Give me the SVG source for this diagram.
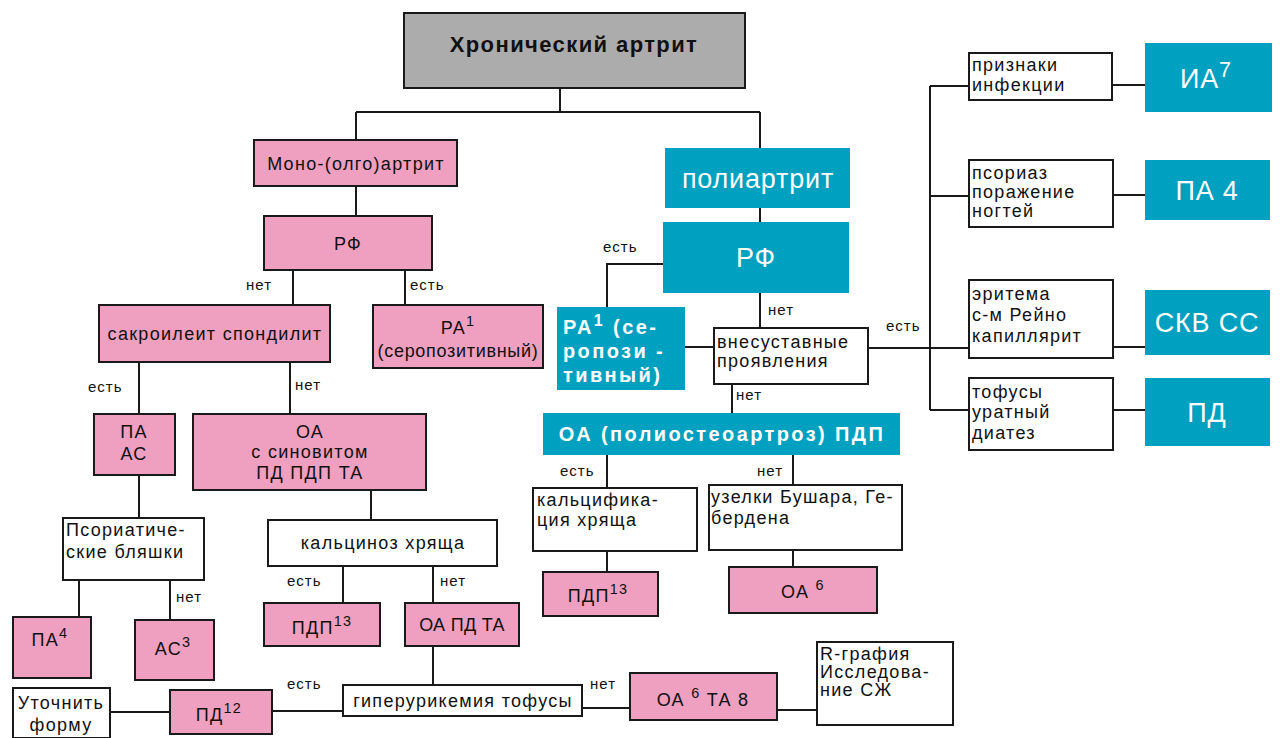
<svg xmlns="http://www.w3.org/2000/svg" width="1280" height="738" viewBox="0 0 1280 738">
<style>
.pk{fill:#ef9fbf;stroke:#1a1a1a;stroke-width:2}
.wh{fill:#fff;stroke:#1a1a1a;stroke-width:2}
.cy{fill:#00a0c0}
.gr{fill:#acacac;stroke:#1a1a1a;stroke-width:2}
.ln{fill:none;stroke:#1a1a1a;stroke-width:2}
text{font-family:"Liberation Sans",Arial,sans-serif;fill:#111}
.t{font-size:18px;letter-spacing:1.3px}
.c{text-anchor:middle}
.lb{font-size:15px;letter-spacing:1px}
.w{fill:#fff;font-size:27px;letter-spacing:0.8px}
.wb{fill:#fff;font-size:20px;font-weight:bold;letter-spacing:2.4px}
.sup{font-size:0.8em}
</style>
<rect width="1280" height="738" fill="#fff"/>
<g id="connectors" class="ln">
<path d="M560 88V112M356 112H760M356 112V140M760 112V148"/>
<path d="M356 186V216"/>
<path d="M293 270V305M405 270V305"/>
<path d="M139 362V414M290 362V414"/>
<path d="M139 475V518"/>
<path d="M79 580V617M170 580V620"/>
<path d="M371 490V520"/>
<path d="M343 566V603M433 566V603"/>
<path d="M433 646V685"/>
<path d="M272 711H343M110 712H170"/>
<path d="M582 708H630M777 710H817"/>
<path d="M760 208V222"/>
<path d="M663 264H607V307"/>
<path d="M760 293V328"/>
<path d="M685 347H714"/>
<path d="M868 348H969"/>
<path d="M930 86V410M930 86H969M930 196H969M930 410H969"/>
<path d="M1112 85H1145M1113 195H1145M1113 347H1145M1113 410H1145"/>
<path d="M732 384V413"/>
<path d="M607 455V488M793 455V485"/>
<path d="M607 551V572M793 550V567"/>
</g>
<g id="labels" class="lb">
<text x="246" y="290">нет</text>
<text x="410" y="290">есть</text>
<text x="88" y="392">есть</text>
<text x="295" y="390">нет</text>
<text x="176" y="602">нет</text>
<text x="287" y="586">есть</text>
<text x="440" y="586">нет</text>
<text x="287" y="689">есть</text>
<text x="590" y="689">нет</text>
<text x="603" y="252">есть</text>
<text x="768" y="315">нет</text>
<text x="886" y="331">есть</text>
<text x="736" y="400">нет</text>
<text x="560" y="476">есть</text>
<text x="757" y="476">нет</text>
</g>
<g id="n-title"><rect class="gr" x="404" y="13" width="341" height="75"/><text x="574" y="52" text-anchor="middle" style="font-size:22px;font-weight:bold;letter-spacing:1.4px">Хронический артрит</text></g>
<g id="n-mono"><rect class="pk" x="254" y="140" width="203" height="46"/><text class="t c" x="356" y="170">Моно-(олго)артрит</text></g>
<g id="n-rf1"><rect class="pk" x="264" y="216" width="168" height="54"/><text class="t c" x="348" y="250">РФ</text></g>
<g id="n-sakr"><rect class="pk" x="99" y="305" width="231" height="57"/><text class="t c" x="215" y="340">сакроилеит спондилит</text></g>
<g id="n-ra1"><rect class="pk" x="373" y="305" width="170" height="63"/><text class="t c" x="458" y="334">РА<tspan class="sup" dy="-8">1</tspan></text><text class="t c" x="458" y="357" style="letter-spacing:0.7px">(серопозитивный)</text></g>
<g id="n-paas"><rect class="pk" x="94" y="414" width="81" height="61"/><text class="t c" x="134" y="438">ПА</text><text class="t c" x="134" y="460">АС</text></g>
<g id="n-oa1"><rect class="pk" x="193" y="414" width="233" height="76"/><text class="t c" x="310" y="438">ОА</text><text class="t c" x="310" y="458">с синовитом</text><text class="t c" x="310" y="479">ПД ПДП ТА</text></g>
<g id="n-psor"><rect class="wh" x="63" y="518" width="141" height="62"/><text class="t" x="66" y="536">Псориатиче-</text><text class="t" x="66" y="558">ские бляшки</text></g>
<g id="n-pa4"><rect class="pk" x="13" y="617" width="78" height="61"/><text class="t c" x="50" y="646">ПА<tspan class="sup" dy="-8">4</tspan></text></g>
<g id="n-as3"><rect class="pk" x="135" y="620" width="79" height="60"/><text class="t c" x="173" y="655">АС<tspan class="sup" dy="-8">3</tspan></text></g>
<g id="n-kalc"><rect class="wh" x="268" y="520" width="229" height="46"/><text class="t c" x="383" y="549">кальциноз хряща</text></g>
<g id="n-pdp1"><rect class="pk" x="264" y="603" width="116" height="43"/><text class="t c" x="322" y="634">ПДП<tspan class="sup" dy="-8">13</tspan></text></g>
<g id="n-oapdta"><rect class="pk" x="405" y="603" width="114" height="43"/><text class="t c" x="462" y="631" style="letter-spacing:0.3px">ОА ПД ТА</text></g>
<g id="n-utoch"><rect class="wh" x="13" y="688" width="97" height="50"/><text class="t c" x="61" y="709">Уточнить</text><text class="t c" x="61" y="731">форму</text></g>
<g id="n-pd12"><rect class="pk" x="170" y="690" width="102" height="44"/><text class="t c" x="219" y="721">ПД<tspan class="sup" dy="-8">12</tspan></text></g>
<g id="n-giper"><rect class="wh" x="343" y="685" width="239" height="31"/><text class="t c" x="463" y="707">гиперурикемия тофусы</text></g>
<g id="n-oa6ta8"><rect class="pk" x="630" y="673" width="147" height="47"/><text class="t c" x="703" y="706">ОА <tspan class="sup" dy="-8">6</tspan><tspan dy="8">  ТА 8</tspan></text></g>
<g id="n-rgraf"><rect class="wh" x="817" y="642" width="136" height="83"/><text class="t" x="820" y="660">R-графия</text><text class="t" x="820" y="678">Исследова-</text><text class="t" x="820" y="696">ние СЖ</text></g>
<g id="n-poly"><rect class="cy" x="665" y="148" width="185" height="60"/><text class="w c" x="758" y="188">полиартрит</text></g>
<g id="n-rf2"><rect class="cy" x="663" y="222" width="186" height="71"/><text class="w c" x="756" y="267">РФ</text></g>
<g id="n-ra2"><rect class="cy" x="557" y="307" width="128" height="83"/><text class="wb" x="563" y="334">РА<tspan class="sup" dy="-8">1</tspan><tspan dy="8"> (се-</tspan></text><text class="wb" x="563" y="358">ропози -</text><text class="wb" x="563" y="382">тивный)</text></g>
<g id="n-vnes"><rect class="wh" x="714" y="328" width="154" height="56"/><text class="t" x="717" y="348">внесуставные</text><text class="t" x="717" y="367">проявления</text></g>
<g id="n-oapoly"><rect class="cy" x="543" y="413" width="357" height="42"/><text class="wb c" x="722" y="441">ОА (полиостеоартроз) ПДП</text></g>
<g id="n-kalcif"><rect class="wh" x="533" y="488" width="164" height="63"/><text class="t" x="537" y="506">кальцифика-</text><text class="t" x="537" y="526">ция хряща</text></g>
<g id="n-pdp2"><rect class="pk" x="543" y="572" width="115" height="44"/><text class="t c" x="598" y="602">ПДП<tspan class="sup" dy="-8">13</tspan></text></g>
<g id="n-uzel"><rect class="wh" x="709" y="485" width="193" height="65"/><text class="t" x="711" y="503">узелки Бушара, Ге-</text><text class="t" x="711" y="524">бердена</text></g>
<g id="n-oa6"><rect class="pk" x="729" y="567" width="148" height="46"/><text class="t c" x="803" y="598">ОА <tspan class="sup" dy="-8">6</tspan></text></g>
<g id="n-priz"><rect class="wh" x="969" y="53" width="143" height="47"/><text class="t" x="972" y="71">признаки</text><text class="t" x="972" y="91">инфекции</text></g>
<g id="n-ia7"><rect class="cy" x="1145" y="43" width="127" height="69"/><text class="w c" x="1206" y="88">ИА<tspan class="sup" dy="-11">7</tspan></text></g>
<g id="n-psor2"><rect class="wh" x="969" y="160" width="144" height="67"/><text class="t" x="972" y="179">псориаз</text><text class="t" x="972" y="198">поражение</text><text class="t" x="972" y="217">ногтей</text></g>
<g id="n-pa4b"><rect class="cy" x="1145" y="160" width="125" height="60"/><text class="w c" x="1207" y="200">ПА 4</text></g>
<g id="n-erit"><rect class="wh" x="969" y="280" width="144" height="78"/><text class="t" x="972" y="300">эритема</text><text class="t" x="972" y="321">с-м Рейно</text><text class="t" x="972" y="342">капиллярит</text></g>
<g id="n-skv"><rect class="cy" x="1145" y="290" width="125" height="65"/><text class="w c" x="1207" y="332">СКВ СС</text></g>
<g id="n-tof"><rect class="wh" x="969" y="378" width="144" height="72"/><text class="t" x="972" y="398">тофусы</text><text class="t" x="972" y="418">уратный</text><text class="t" x="972" y="439">диатез</text></g>
<g id="n-pd"><rect class="cy" x="1145" y="378" width="125" height="68"/><text class="w c" x="1207" y="422">ПД</text></g>
</svg>
